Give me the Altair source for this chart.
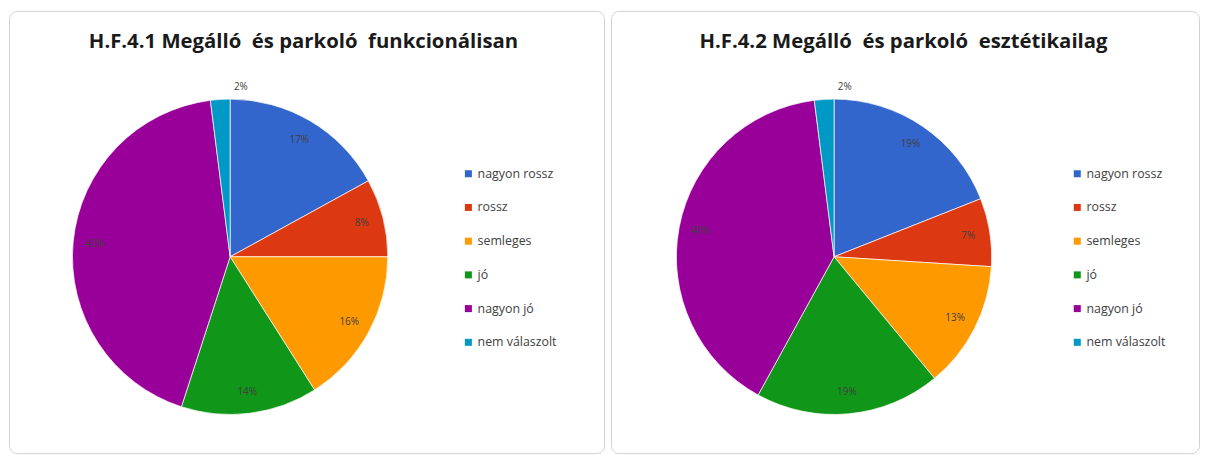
import altair as alt
import pandas as pd

categories = ["nagyon rossz", "rossz", "semleges", "jó", "nagyon jó", "nem válaszolt"]
colors = ["#3366CC", "#DC3912", "#FF9900", "#109618", "#990099", "#0099C6"]
values_1 = [17, 8, 16, 14, 43, 2]
values_2 = [19, 7, 13, 19, 40, 2]
title_1 = "H.F.4.1 Megálló\u00a0 és parkoló\u00a0 funkcionálisan"
title_2 = "H.F.4.2 Megálló\u00a0 és parkoló\u00a0 esztétikailag"

FONT = "Open Sans"


def panel(values, title, w, cx, cy, tx, lx):
    df = pd.DataFrame({"cat": categories, "value": values, "idx": list(range(len(categories)))})
    df["label"] = df["value"].astype(str) + "%"
    base = alt.Chart(df)
    color = alt.Color(
        "cat:N",
        scale=alt.Scale(domain=categories, range=colors),
        sort=categories,
        legend=alt.Legend(
            title=None,
            orient="none",
            legendX=lx,
            legendY=158,
            symbolType="square",
            symbolSize=50,
            symbolStrokeWidth=0,
            labelFontSize=12.5,
            labelFont=FONT,
            labelColor="#404040",
            rowPadding=21,
            labelOffset=3,
        ),
    )
    arcs = base.mark_arc(radius=159, stroke="white", strokeWidth=0.7).encode(
        theta=alt.Theta("value:Q", stack=True),
        color=color,
        order=alt.Order("idx:Q"),
        x=alt.value(cx),
        y=alt.value(cy),
    )
    labels = base.transform_calculate(
        r="datum.value < 5 ? 172 : 137"
    ).mark_text(font=FONT, fontSize=10, color="#404040").encode(
        theta=alt.Theta("value:Q", stack=True),
        radius=alt.Radius("r:Q", scale=None),
        order=alt.Order("idx:Q"),
        text="label:N",
        x=alt.value(cx),
        y=alt.value(cy),
    )
    tdf = pd.DataFrame({"t": [title]})
    ttl = alt.Chart(tdf).mark_text(
        font=FONT, fontSize=20.5, fontWeight="bold", color="#1a1a1a", align="center", baseline="middle"
    ).encode(text="t:N", x=alt.value(tx), y=alt.value(31))
    return alt.layer(arcs, labels, ttl).properties(width=w, height=446)


left = panel(values_1, title_1, 600, 223, 248, 297, 457)
right = panel(values_2, title_2, 593, 225, 248, 295, 464)

chart = (
    alt.hconcat(left, right, spacing=5)
    .resolve_scale(color="independent")
    .resolve_legend(color="independent")
    .properties(padding=0, background="white")
    .configure_view(stroke="#D0D0D0", strokeWidth=1, cornerRadius=8)
)

chart.save("out.html", embed_options={"renderer": "svg", "actions": False})
